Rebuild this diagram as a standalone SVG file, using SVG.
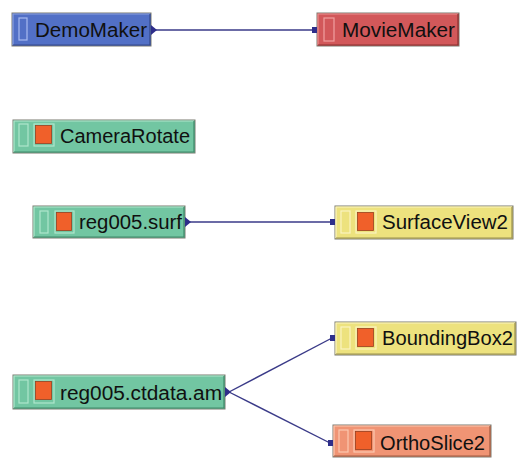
<svg xmlns="http://www.w3.org/2000/svg" width="517" height="458" viewBox="0 0 517 458">
<style>
.node{stroke:#7a7a70;stroke-width:1}
.hl{fill:none;stroke-width:1.2}
.lbl{font-family:"Liberation Sans","DejaVu Sans",sans-serif;font-size:20px;fill:#101010}
.tog{fill:none;stroke-width:1.2}
.org{fill:#f0602a;stroke:#9a4020;stroke-width:0.8}
.conn{stroke:#3a3a88;stroke-width:1.4;fill:none}
.port{fill:#2e2e8a}
.blue{fill:#5270c6}
.red{fill:#d2585a}
.green{fill:#72c6a2}
.yellow{fill:#ede27e}
.salmon{fill:#f09474}
</style>
<rect width="517" height="458" fill="#ffffff"/>
<g id="connectors">
<line class="conn" x1="155" y1="30" x2="313" y2="30"/>
<line class="conn" x1="189" y1="222" x2="332" y2="222"/>
<line class="conn" x1="229" y1="392" x2="332" y2="338"/>
<line class="conn" x1="229" y1="392" x2="330" y2="443"/>
</g>
<g id="DemoMaker">
<rect class="node blue" x="12" y="13" width="139" height="33"/>
<polyline class="hl" stroke="#8aa0e0" points="13,45 13,14 150,14"/>
<polyline class="hl" stroke="#34488a" points="13,45 150,45 150,14"/>
<rect class="tog" stroke="#a8baf0" x="19" y="18" width="8" height="22"/>
<text class="lbl" x="35" y="37" textLength="112" lengthAdjust="spacingAndGlyphs">DemoMaker</text>
<polygon class="port" points="151,25 157,30 151,35"/>
</g>
<g id="MovieMaker">
<rect class="node red" x="317" y="13" width="142" height="33"/>
<polyline class="hl" stroke="#eb9090" points="318,45 318,14 458,14"/>
<polyline class="hl" stroke="#8a3030" points="318,45 458,45 458,14"/>
<rect class="tog" stroke="#f0a0a0" x="324" y="18" width="10" height="23"/>
<text class="lbl" x="342" y="37" textLength="113" lengthAdjust="spacingAndGlyphs">MovieMaker</text>
<rect class="port" x="312" y="27" width="5" height="6"/>
</g>
<g id="CameraRotate">
<rect class="node green" x="13" y="120" width="182" height="33"/>
<polyline class="hl" stroke="#b0e6cc" points="14,152 14,121 194,121"/>
<polyline class="hl" stroke="#3e8a6a" points="14,152 194,152 194,121"/>
<rect class="tog" stroke="#b0e6cc" x="19" y="124" width="9" height="22"/>
<rect class="tog" stroke="#b0e6cc" x="34" y="124" width="20" height="22"/>
<rect class="org" x="35.5" y="125.5" width="16" height="18"/>
<text class="lbl" x="60" y="143" textLength="130" lengthAdjust="spacingAndGlyphs">CameraRotate</text>
</g>
<g id="reg005.surf">
<rect class="node green" x="33" y="206" width="152" height="32"/>
<polyline class="hl" stroke="#b0e6cc" points="34,237 34,207 184,207"/>
<polyline class="hl" stroke="#3e8a6a" points="34,237 184,237 184,207"/>
<rect class="tog" stroke="#b0e6cc" x="40" y="211" width="8" height="22"/>
<rect class="tog" stroke="#b0e6cc" x="55" y="211" width="19" height="22"/>
<rect class="org" x="56.5" y="212.5" width="15" height="18"/>
<text class="lbl" x="79" y="229" textLength="103" lengthAdjust="spacingAndGlyphs">reg005.surf</text>
<polygon class="port" points="185,217 191,222 185,227"/>
</g>
<g id="SurfaceView2">
<rect class="node yellow" x="335" y="206" width="178" height="33"/>
<polyline class="hl" stroke="#fbf4c0" points="336,238 336,207 512,207"/>
<polyline class="hl" stroke="#9a9050" points="336,238 512,238 512,207"/>
<rect class="tog" stroke="#fbf4c0" x="341" y="211" width="9" height="22"/>
<rect class="tog" stroke="#fbf4c0" x="356" y="211" width="20" height="22"/>
<rect class="org" x="357.5" y="212.5" width="16" height="18"/>
<text class="lbl" x="382" y="229" textLength="126" lengthAdjust="spacingAndGlyphs">SurfaceView2</text>
<rect class="port" x="330" y="219" width="5" height="6"/>
</g>
<g id="reg005.ctdata.am">
<rect class="node green" x="13" y="375" width="212" height="34"/>
<polyline class="hl" stroke="#b0e6cc" points="14,408 14,376 224,376"/>
<polyline class="hl" stroke="#3e8a6a" points="14,408 224,408 224,376"/>
<rect class="tog" stroke="#b0e6cc" x="19" y="380" width="9" height="23"/>
<rect class="tog" stroke="#b0e6cc" x="34" y="380" width="20" height="23"/>
<rect class="org" x="35.5" y="381.5" width="16" height="18"/>
<text class="lbl" x="60" y="400" textLength="162" lengthAdjust="spacingAndGlyphs">reg005.ctdata.am</text>
<polygon class="port" points="225,387 231,392 225,397"/>
</g>
<g id="BoundingBox2">
<rect class="node yellow" x="335" y="322" width="181" height="33"/>
<polyline class="hl" stroke="#fbf4c0" points="336,354 336,323 515,323"/>
<polyline class="hl" stroke="#9a9050" points="336,354 515,354 515,323"/>
<rect class="tog" stroke="#fbf4c0" x="341" y="327" width="9" height="22"/>
<rect class="tog" stroke="#fbf4c0" x="356" y="327" width="20" height="22"/>
<rect class="org" x="357.5" y="328.5" width="16" height="18"/>
<text class="lbl" x="382" y="345" textLength="131" lengthAdjust="spacingAndGlyphs">BoundingBox2</text>
<rect class="port" x="330" y="335" width="5" height="6"/>
</g>
<g id="OrthoSlice2">
<rect class="node salmon" x="333" y="425" width="158" height="32"/>
<polyline class="hl" stroke="#fcc8b0" points="334,456 334,426 490,426"/>
<polyline class="hl" stroke="#a05a40" points="334,456 490,456 490,426"/>
<rect class="tog" stroke="#fcc8b0" x="339" y="430" width="9" height="22"/>
<rect class="tog" stroke="#fcc8b0" x="354" y="430" width="20" height="22"/>
<rect class="org" x="355.5" y="431.5" width="16" height="18"/>
<text class="lbl" x="380" y="450" textLength="105" lengthAdjust="spacingAndGlyphs">OrthoSlice2</text>
<rect class="port" x="328" y="440" width="5" height="6"/>
</g>
</svg>
